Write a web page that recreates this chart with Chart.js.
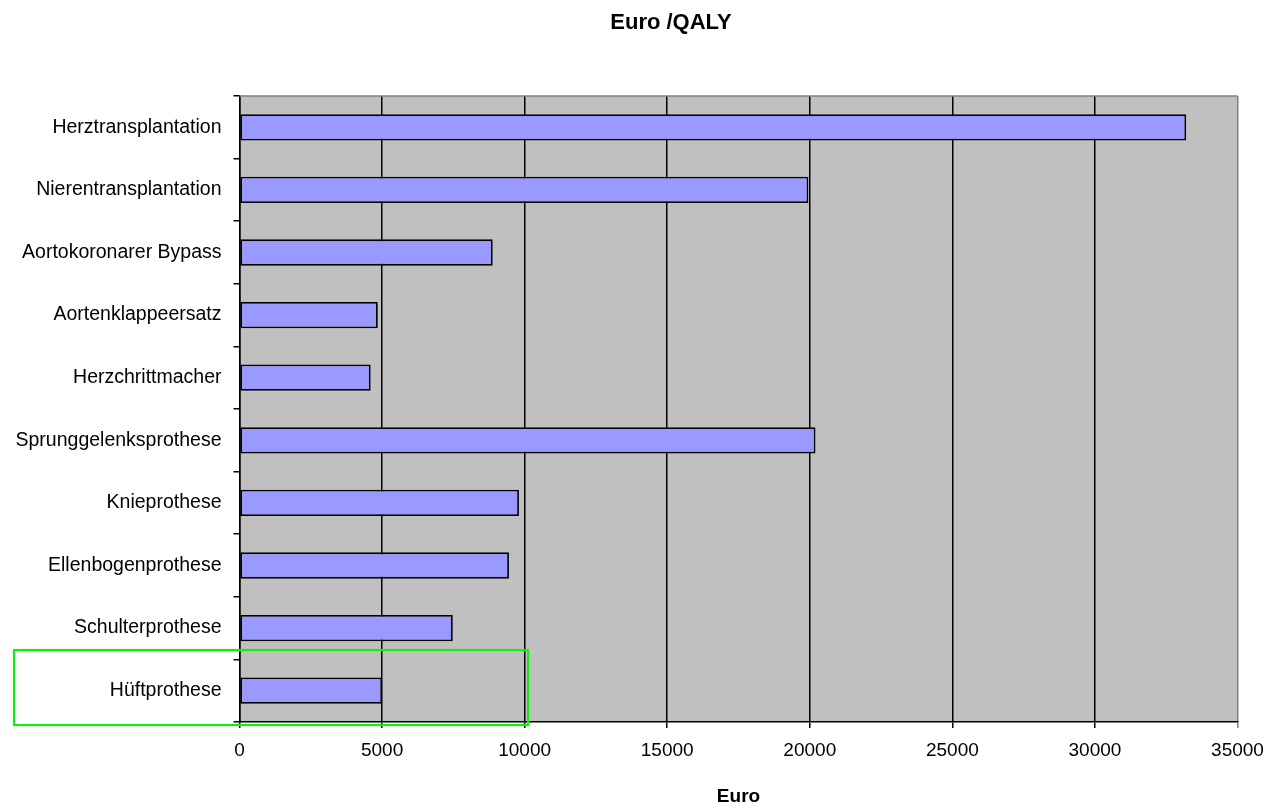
<!DOCTYPE html>
<html>
<head>
<meta charset="utf-8">
<script src="https://cdn.jsdelivr.net/npm/chart.js@4/dist/chart.umd.min.js"></script>
<style>
  html, body { margin: 0; padding: 0; background: #fff; }
  #wrap { width: 1271px; height: 808px; }
</style>
</head>
<body>
<div id="wrap"><canvas id="qalyChart"></canvas></div>
<script>
const categories = [
  'Herztransplantation',
  'Nierentransplantation',
  'Aortokoronarer Bypass',
  'Aortenklappeersatz',
  'Herzchrittmacher',
  'Sprunggelenksprothese',
  'Knieprothese',
  'Ellenbogenprothese',
  'Schulterprothese',
  'Hüftprothese',
];
const euroPerQaly = [33200, 19950, 8880, 4850, 4600, 20200, 9800, 9450, 7480, 5000];
const xTicks = [0, 5000, 10000, 15000, 20000, 25000, 30000, 35000];
const highlighted = 'Hüftprothese';

const FONT = 'Arial, "Liberation Sans", sans-serif';

// grey plot area + grey top border, title on top
const plotBackground = {
  id: 'plotBackground',
  beforeDraw(chart) {
    const { ctx, chartArea: a } = chart;
    ctx.save();
    ctx.fillStyle = '#c0c0c0';
    ctx.fillRect(a.left, a.top, a.right - a.left, a.bottom - a.top);
    ctx.restore();
  },
  afterDraw(chart) {
    const { ctx, chartArea: a } = chart;
    ctx.save();
    ctx.strokeStyle = '#808080';
    ctx.lineWidth = 1.5;
    ctx.beginPath();
    ctx.moveTo(a.left, a.top);
    ctx.lineTo(a.right, a.top);
    ctx.stroke();
    ctx.fillStyle = '#000';
    ctx.font = `bold 22px ${FONT}`;
    ctx.textAlign = 'center';
    ctx.textBaseline = 'middle';
    ctx.fillText('Euro /QALY', 671, 23);
    ctx.restore();
  },
};

// green box around the highlighted category
const highlightBox = {
  id: 'highlightBox',
  afterDraw(chart) {
    const { ctx, chartArea: a, scales } = chart;
    const idx = categories.indexOf(highlighted);
    const band = (a.bottom - a.top) / categories.length;
    const top = scales.y.getPixelForValue(idx) - band * 0.65;
    ctx.save();
    ctx.strokeStyle = '#10f010';
    ctx.lineWidth = 2.2;
    ctx.strokeRect(14, top, scales.x.getPixelForValue(10120) - 14, a.bottom + 3 - top);
    ctx.restore();
  },
};

new Chart(document.getElementById('qalyChart'), {
  type: 'bar',
  data: {
    labels: categories,
    datasets: [{
      label: 'Euro /QALY',
      data: euroPerQaly,
      backgroundColor: '#9999ff',
      borderColor: '#000',
      borderWidth: 1.8,
      borderSkipped: false,
      barPercentage: 0.42,
      categoryPercentage: 1,
    }],
  },
  options: {
    indexAxis: 'y',
    responsive: true,
    maintainAspectRatio: false,
    animation: false,
    layout: { padding: { top: 96, right: 33.5, bottom: 0, left: 0 } },
    plugins: {
      legend: { display: false },
      title: { display: false },
      tooltip: { enabled: false },
    },
    scales: {
      x: {
        min: 0,
        max: 35000,
        afterBuildTicks(scale) { scale.ticks = xTicks.map((v) => ({ value: v })); },
        afterFit(scale) {
          scale.height = 86;
          scale.paddingLeft = 0;
          scale.paddingRight = 0;
        },
        ticks: {
          color: '#000',
          font: { family: FONT, size: 19 },
          padding: 11,
          maxRotation: 0,
          callback: (v) => String(v),
        },
        grid: {
          color: (c) => (c.tick && c.tick.value === 35000 ? '#808080' : '#000'),
          lineWidth: 1.5,
          tickLength: 6,
        },
        border: { display: true, color: '#000', width: 1.5 },
        title: {
          display: true,
          text: 'Euro',
          color: '#000',
          font: { family: FONT, size: 19, weight: 'bold' },
          padding: { top: 18, bottom: 0 },
        },
      },
      y: {
        afterFit(scale) { scale.width = 239.5; },
        ticks: {
          color: '#000',
          font: { family: FONT, size: 19.5 },
          padding: 12,
        },
        grid: {
          offset: true,
          drawOnChartArea: false,
          color: '#000',
          lineWidth: 1.5,
          tickLength: 6,
        },
        border: { display: true, color: '#000', width: 1.5 },
      },
    },
  },
  plugins: [plotBackground, highlightBox],
});
</script>
</body>
</html>
